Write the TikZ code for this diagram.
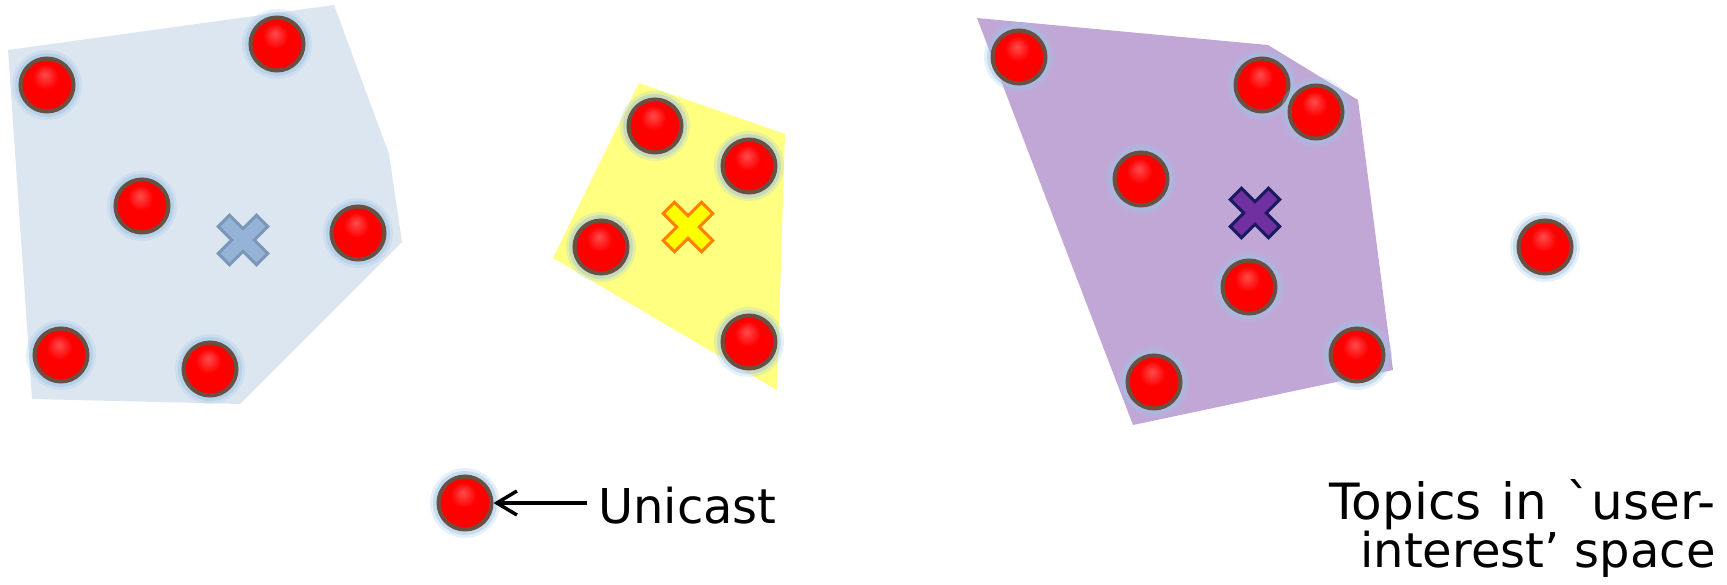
\documentclass[tikz,border=0pt]{standalone}
\usepackage{fontspec}
\setmainfont{DejaVu Sans}[Ligatures=TeXOff]
\usetikzlibrary{arrows.meta}
\definecolor{bluepoly}{HTML}{DCE6F0}
\definecolor{yellowpoly}{HTML}{FFFF80}
\definecolor{purplepoly}{HTML}{C0A7D6}
\definecolor{bluex}{HTML}{95B3D7}
\definecolor{bluexline}{HTML}{7A97B8}
\definecolor{yellowx}{HTML}{FFFF00}
\definecolor{orangex}{HTML}{FF8000}
\definecolor{purplex}{HTML}{7030A0}
\definecolor{navyx}{HTML}{1A1A60}
\definecolor{rim}{RGB}{104,80,66}
\definecolor{glow}{HTML}{9DC3E6}
\pgfdeclareradialshading{redball}{\pgfpoint{-2bp}{10bp}}{color(0bp)=(red!70!white); color(12bp)=(red); color(32bp)=(red); color(44bp)=(red!72!black); color(50bp)=(red!50!black)}
\tikzset{
  dot/.style={circle, inner sep=0pt, minimum size=53pt, draw=rim, line width=4pt, shading=redball,
    preaction={draw=glow, draw opacity=0.25, line width=17pt},
    preaction={draw=glow, draw opacity=0.45, line width=11pt}},
  xmark/.pic={\path[pic actions, line width=3pt, line join=miter, rotate=45]
    (8,8) -- (27,8) -- (27,-8) -- (8,-8) -- (8,-27) -- (-8,-27) -- (-8,-8) -- (-27,-8)
    -- (-27,8) -- (-8,8) -- (-8,27) -- (8,27) -- cycle;},
  lbl/.style={inner sep=0pt, font=\fontsize{48}{44}\selectfont},
  legarrow/.style={line width=3.5pt, -{Straight Barb[length=20pt,width=24pt]}}
}
\begin{document}
\begin{tikzpicture}[x=1pt,y=-1pt]
\useasboundingbox (0,0) rectangle (1727,585);
% regions
\fill[bluepoly] (8,50) -- (334,5) -- (389,154) -- (402,242) -- (240,404) -- (32,399) -- cycle;
\fill[yellowpoly] (639,83) -- (785,134) -- (777,390) -- (553,258) -- cycle;
\fill[purplepoly] (977,18) -- (1268,45) -- (1358,100) -- (1393,370) -- (1133,425) -- cycle;
% centroids
\pic (cblue) [fill=bluex, draw=bluexline] at (243,240) {xmark};
\pic (cyellow) [fill=yellowx, draw=orangex] at (688,227) {xmark};
\pic (cpurple) [fill=purplex, draw=navyx] at (1255,213) {xmark};
% blue cluster
\node[dot] (b1) at (47,85) {};
\node[dot] (b2) at (277,44) {};
\node[dot] (b3) at (142,206) {};
\node[dot] (b4) at (358,233) {};
\node[dot] (b5) at (61,355) {};
\node[dot] (b6) at (210,369) {};
% yellow cluster
\node[dot] (y1) at (655,126) {};
\node[dot] (y2) at (749,166) {};
\node[dot] (y3) at (601,247) {};
\node[dot] (y4) at (749,342) {};
% purple cluster
\node[dot] (p1) at (1019,57) {};
\node[dot] (p2) at (1262,85) {};
\node[dot] (p3) at (1316,112) {};
\node[dot] (p4) at (1141,179) {};
\node[dot] (p5) at (1249,287) {};
\node[dot] (p6) at (1357,355) {};
\node[dot] (p7) at (1154,382) {};
% outlier
\node[dot] (o1) at (1545,247) {};
% legend
\node[dot] (leg) at (465,503) {};
\node[lbl, anchor=base west] (uni) at (598,523) {Unicast};
\coordinate (arrstart) at (587,503);
\draw[legarrow] (arrstart) -- (leg.east);
\node[lbl, anchor=base east, align=right] (topics) at (1716,567) {\makebox[386pt][s]{\fontsize{50}{44}\selectfont Topics in `user-}\\interest’ space};
\end{tikzpicture}
\end{document}
